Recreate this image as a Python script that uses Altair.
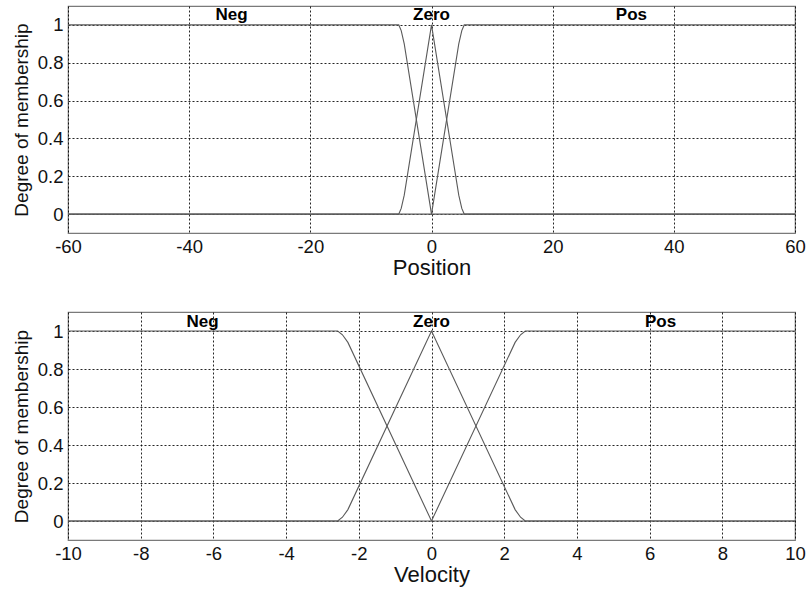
import altair as alt
import pandas as pd

# Membership functions for the position input (x breakpoints and degree per set)
position_x = [-60, -5.4, -5.0, -4.5, 0, 4.5, 5.0, 5.4, 60]
position_neg = [1, 1, 0.97, 0.9, 0, 0, 0, 0, 0]
position_zero = [0, 0, 0.03, 0.1, 1, 0.1, 0.03, 0, 0]
position_pos = [0, 0, 0, 0, 0, 0.9, 0.97, 1, 1]

# Membership functions for the velocity input
velocity_x = [-10, -2.58, -2.45, -2.3, 0, 2.3, 2.45, 2.58, 10]
velocity_neg = [1, 1, 0.98, 0.94, 0, 0, 0, 0, 0]
velocity_zero = [0, 0, 0.02, 0.06, 1, 0.06, 0.02, 0, 0]
velocity_pos = [0, 0, 0, 0, 0, 0.94, 0.98, 1, 1]

# Set names and where their labels sit
set_names = ["Neg", "Zero", "Pos"]
position_label_x = [-33, 0, 33]
velocity_label_x = [-6.3, 0, 6.3]
label_y = 1.05

y_ticks = [0, 0.2, 0.4, 0.6, 0.8, 1]
position_ticks = [-60, -40, -20, 0, 20, 40, 60]
velocity_ticks = [-10, -8, -6, -4, -2, 0, 2, 4, 6, 8, 10]

LINE = "#5a5a5a"
FONT = "Liberation Sans"
# plain hyphen minus and no trailing zeros on tick labels
PLAIN_LABEL = "'' + datum.value"


def mf_table(xs, neg, zero, pos):
    rows = []
    for name, ys in zip(set_names, [neg, zero, pos]):
        for x, y in zip(xs, ys):
            rows.append({"x": x, "mu": y, "mf": name})
    return pd.DataFrame(rows)


def panel(xs, neg, zero, pos, label_x, domain, ticks, title, height):
    df = mf_table(xs, neg, zero, pos)
    labels = pd.DataFrame({"x": label_x, "mu": [label_y] * 3, "name": set_names})
    xscale = alt.Scale(domain=domain, nice=False, zero=False)
    yscale = alt.Scale(domain=[-0.1, 1.1], nice=False)
    xaxis = alt.Axis(values=ticks, title=title, grid=True, ticks=False,
                     labelExpr=PLAIN_LABEL,
                     labelFontSize=18.5, titleFontSize=22, labelPadding=4,
                     titlePadding=2, titleFontWeight="normal", domain=False,
                     labelFlush=False, labelColor="#111", titleColor="#111")
    yaxis = alt.Axis(values=y_ticks, title="Degree of membership", grid=True,
                     ticks=False, labelExpr=PLAIN_LABEL, labelFontSize=18.5,
                     titleFontSize=19, labelPadding=5, titlePadding=6,
                     titleFontWeight="normal", domain=False,
                     labelColor="#111", titleColor="#111")
    lines = alt.Chart(df).mark_line(color=LINE, strokeWidth=1.1).encode(
        x=alt.X("x:Q", scale=xscale, axis=xaxis),
        y=alt.Y("mu:Q", scale=yscale, axis=yaxis),
        detail="mf:N",
        order="x:Q",
    )
    text = alt.Chart(labels).mark_text(
        fontSize=17, fontWeight="bold", baseline="middle", align="center",
        color="#000"
    ).encode(x=alt.X("x:Q", scale=xscale), y=alt.Y("mu:Q", scale=yscale), text="name:N")
    return alt.layer(lines, text).properties(width=727, height=height)


top = panel(position_x, position_neg, position_zero, position_pos,
            position_label_x, [-60, 60], position_ticks, "Position", 227)
bottom = panel(velocity_x, velocity_neg, velocity_zero, velocity_pos,
               velocity_label_x, [-10, 10], velocity_ticks, "Velocity", 228)

chart = alt.vconcat(top, bottom, spacing=31).properties(
    padding={"left": 11, "top": 5, "right": 2, "bottom": 5},
    background="white",
).configure(font=FONT).configure_view(
    stroke="#7a7a7a", strokeWidth=1.2
).configure_axis(
    gridColor="#000", gridDash=[2, 2], gridOpacity=0.85, gridWidth=1
)

chart.save("out.html", embed_options={"renderer": "svg", "actions": False})
